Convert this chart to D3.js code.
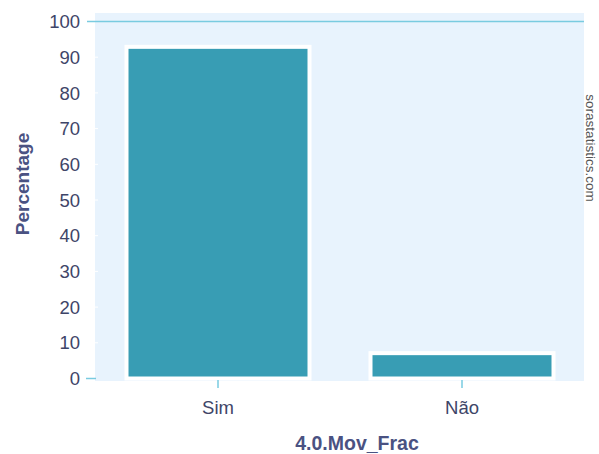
<!DOCTYPE html>
<html>
<head>
<meta charset="utf-8">
<script src="https://cdn.jsdelivr.net/npm/d3@7"></script>
<style>
  body { margin: 0; background: #fff; }
  text { font-family: "Liberation Sans", Arial, sans-serif; }
</style>
</head>
<body>
<div id="container"></div>
<script>
const categories = ["Sim", "Não"];
const percentages = [92.9, 7.1];
const yTicks = [0, 10, 20, 30, 40, 50, 60, 70, 80, 90, 100];
const xTitle = "4.0.Mov_Frac";
const yTitle = "Percentage";
const watermark = "sorastatistics.com";

const width = 599, height = 454;
const plot = { left: 96, right: 584, top: 13, bottom: 381 };

const svg = d3.select("#container").append("svg")
    .attr("width", width)
    .attr("height", height);

// plot background
svg.append("rect")
    .attr("x", plot.left - 1)
    .attr("y", plot.top)
    .attr("width", plot.right - plot.left + 1)
    .attr("height", plot.bottom - plot.top)
    .attr("fill", "#e8f3fd");

const x = d3.scaleBand()
    .domain(categories)
    .range([plot.left, plot.right])
    .paddingInner(0.25)
    .paddingOuter(0.125);

const y = d3.scaleLinear()
    .domain([0, 100])
    .range([378.5, 21.5]);

// gridline at 100
svg.append("line")
    .attr("x1", 87).attr("x2", plot.right)
    .attr("y1", y(100)).attr("y2", y(100))
    .attr("stroke", "#79cbe0")
    .attr("stroke-width", 1.5);

// faint white tick marks along left edge
svg.append("g")
    .selectAll("line")
    .data(yTicks.slice(1, -1))
    .enter().append("line")
    .attr("x1", plot.left - 1).attr("x2", plot.left + 2)
    .attr("y1", d => y(d)).attr("y2", d => y(d))
    .attr("stroke", "#fff");

// bars
svg.append("g")
    .selectAll("rect")
    .data(categories)
    .enter().append("rect")
    .attr("x", d => x(d))
    .attr("y", (d, i) => y(percentages[i]))
    .attr("width", x.bandwidth())
    .attr("height", (d, i) => y(0) - y(percentages[i]))
    .attr("fill", "#389db4")
    .attr("stroke", "#fff")
    .attr("stroke-width", 4);

// zero line tick
svg.append("line")
    .attr("x1", 86).attr("x2", 96)
    .attr("y1", y(0)).attr("y2", y(0))
    .attr("stroke", "#79cbe0")
    .attr("stroke-width", 1.5);

// y tick labels
svg.append("g")
    .selectAll("text")
    .data(yTicks)
    .enter().append("text")
    .attr("x", 80)
    .attr("y", d => y(d))
    .attr("dy", "0.36em")
    .attr("text-anchor", "end")
    .attr("font-size", 18.5)
    .attr("fill", "#3e4568")
    .text(d => d);

// x ticks and labels
const xg = svg.append("g");
xg.selectAll("line")
    .data(categories)
    .enter().append("line")
    .attr("x1", d => x(d) + x.bandwidth() / 2)
    .attr("x2", d => x(d) + x.bandwidth() / 2)
    .attr("y1", 380).attr("y2", 388)
    .attr("stroke", "#79cbe0")
    .attr("stroke-width", 1.5);
xg.selectAll("text")
    .data(categories)
    .enter().append("text")
    .attr("x", d => x(d) + x.bandwidth() / 2)
    .attr("y", 414)
    .attr("text-anchor", "middle")
    .attr("font-size", 18.5)
    .attr("fill", "#3e4568")
    .text(d => d);

// axis titles
svg.append("text")
    .attr("x", 357)
    .attr("y", 450)
    .attr("text-anchor", "middle")
    .attr("font-size", 19.5)
    .attr("font-weight", "bold")
    .attr("fill", "#4a5282")
    .text(xTitle);

svg.append("text")
    .attr("transform", "translate(29,184) rotate(-90)")
    .attr("text-anchor", "middle")
    .attr("font-size", 19)
    .attr("font-weight", "bold")
    .attr("fill", "#4a5282")
    .text(yTitle);

// watermark
svg.append("text")
    .attr("transform", "translate(586,148) rotate(90)")
    .attr("text-anchor", "middle")
    .attr("font-size", 13.5)
    .attr("fill", "#555")
    .text(watermark);
</script>
</body>
</html>
